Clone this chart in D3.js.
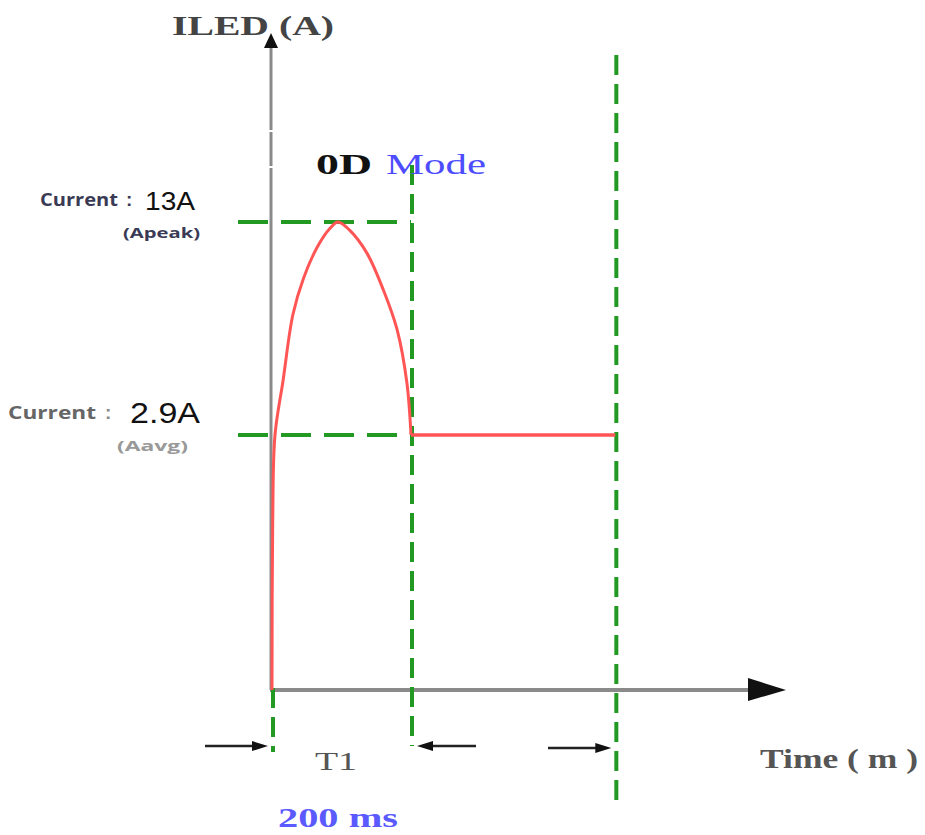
<!DOCTYPE html>
<html>
<head>
<meta charset="utf-8">
<script src="https://cdn.jsdelivr.net/npm/d3@7"></script>
<style>
  body { margin: 0; background: #fff; }
  svg { display: block; }
</style>
</head>
<body>
<div id="chart"></div>
<script>
// current waveform (time in ms, current in A)
const pulseTime    = [0, 1, 4.3, 16, 30, 45, 65, 83.5, 95, 112, 137, 160, 180, 194, 200];
const pulseCurrent = [0, 1.9, 2.9, 5.5, 8.6, 10.3, 11.8, 12.7, 13, 12.6, 11.5, 9.8, 7.9, 5.4, 2.9];
const holdTime     = [200, 494];
const holdCurrent  = [2.9, 2.9];

// levels and time markers
const levels      = [13, 2.9];
const levelNames  = ['13A', '2.9A'];
const levelSub    = ['(Apeak)', '(Aavg)'];
const markerTimes = [0, 200, 494];

const width = 925;
const height = 835;

const svg = d3.select('#chart')
  .append('svg')
  .attr('width', width)
  .attr('height', height);

// y is not to scale in the drawing, so piecewise
const x = d3.scaleLinear().domain([0, 700]).range([272, 758.5]);
const y = d3.scaleLinear().domain([0, 2.9, 13]).range([690, 435, 222]);

const green = '#229922';

// axes
svg.append('line')
  .attr('x1', x(0) - 1).attr('x2', x(0) - 1)
  .attr('y1', y(0)).attr('y2', 46)
  .attr('stroke', '#8a8a8a').attr('stroke-width', 3)
  .attr('stroke-dasharray', '522 2 34 2 200');
svg.append('path')
  .attr('d', `M${x(0) - 1},33 L${x(0) - 8},48 L${x(0) + 6},48 Z`)
  .attr('fill', '#111');

svg.append('line')
  .attr('x1', x(0) - 2).attr('x2', 752)
  .attr('y1', y(0)).attr('y2', y(0))
  .attr('stroke', '#8a8a8a').attr('stroke-width', 4);
svg.append('path')
  .attr('d', `M748,${y(0) - 12} L786,${y(0)} L748,${y(0) + 11} Z`)
  .attr('fill', '#111');

// horizontal dashed levels
svg.selectAll('.lvl')
  .data(levels)
  .join('line')
  .attr('class', 'lvl')
  .attr('x1', x(0) - 34).attr('x2', x(200))
  .attr('y1', d => y(d)).attr('y2', d => y(d))
  .attr('stroke', green).attr('stroke-width', 4)
  .attr('stroke-dasharray', '30 13');

// vertical dashed markers
const markerTop = [688, 165, 55];
const markerBot = [752, 746, 802];
svg.selectAll('.mk')
  .data(markerTimes)
  .join('line')
  .attr('class', 'mk')
  .attr('x1', d => x(d) + 1).attr('x2', d => x(d) + 1)
  .attr('y1', (d, i) => markerTop[i]).attr('y2', (d, i) => markerBot[i])
  .attr('stroke', green).attr('stroke-width', 4)
  .attr('stroke-dasharray', '20 9');

// red current curve
const pulse = pulseTime.map((t, i) => ({ t: t, a: pulseCurrent[i] }));
const hold = holdTime.map((t, i) => ({ t: t, a: holdCurrent[i] }));

svg.append('path')
  .datum(pulse)
  .attr('d', d3.line().x(d => x(d.t)).y(d => y(d.a)).curve(d3.curveCatmullRom.alpha(0.5)))
  .attr('fill', 'none')
  .attr('stroke', '#ff5555').attr('stroke-width', 3);

svg.append('path')
  .datum(hold)
  .attr('d', d3.line().x(d => x(d.t)).y(d => y(d.a)))
  .attr('fill', 'none')
  .attr('stroke', '#ff5555').attr('stroke-width', 3.5);

// little black arrows under the axis
function arrow(x1, x2, yy) {
  const dir = x2 > x1 ? 1 : -1;
  svg.append('line')
    .attr('x1', x1).attr('x2', x2 - dir * 10)
    .attr('y1', yy).attr('y2', yy)
    .attr('stroke', '#222').attr('stroke-width', 2.5);
  svg.append('path')
    .attr('d', `M${x2},${yy} L${x2 - dir * 16},${yy - 5} L${x2 - dir * 16},${yy + 5} Z`)
    .attr('fill', '#111');
}
arrow(205, x(0) - 4, 746);
arrow(476, x(200) + 6, 746);
arrow(548, x(494) - 4, 748);

// texts
const serif = '"Liberation Serif", "DejaVu Serif", serif';
const sans = '"Liberation Sans", Arial, sans-serif';

function label(tx, ty, str, size, fill, weight, len, family) {
  const t = svg.append('text')
    .attr('x', tx).attr('y', ty)
    .attr('font-family', family || serif).attr('font-size', size)
    .attr('font-weight', weight || 'normal')
    .attr('fill', fill)
    .text(str);
  if (len) t.attr('textLength', len).attr('lengthAdjust', 'spacingAndGlyphs');
  return t;
}

label(172, 35, 'ILED (A)', 27, '#444', 'bold', 162);
label(316, 174, '0D', 30, '#111', 'bold', 56);
label(386, 174, 'Mode', 30, '#4d4dff', 'normal', 100);

// level labels
const labX = [40, 8];
const labW = [78, 88];
const colX = [126, 105];
const valX = [145, 130];
const valW = [50, 70];
const subX = [123, 117];
const subW = [77, 71];
levels.forEach((d, i) => {
  label(labX[i], y(d) - 16, 'Current', 17, i === 0 ? '#3a3a55' : '#666', 'bold', labW[i], '"Open Sans", sans-serif');
  label(colX[i], y(d) - 16, ':', 19, i === 0 ? '#3a3a55' : '#888', 'bold', null, sans);
  label(valX[i], y(d) - 12, levelNames[i], i === 0 ? 25 : 30, '#111', 'normal', valW[i], sans);
  label(subX[i], y(d) + 16, levelSub[i], 15, i === 0 ? '#3a3a55' : '#999', 'bold', subW[i], '"Open Sans", sans-serif');
});

label(315, 770, 'T1', 25, '#555', 'normal', 42);
label(278, 827, '200  ms', 27, '#5a5aff', 'bold', 120);
label(760, 768, 'Time ( m )', 27, '#555', 'bold', 158);
</script>
</body>
</html>
